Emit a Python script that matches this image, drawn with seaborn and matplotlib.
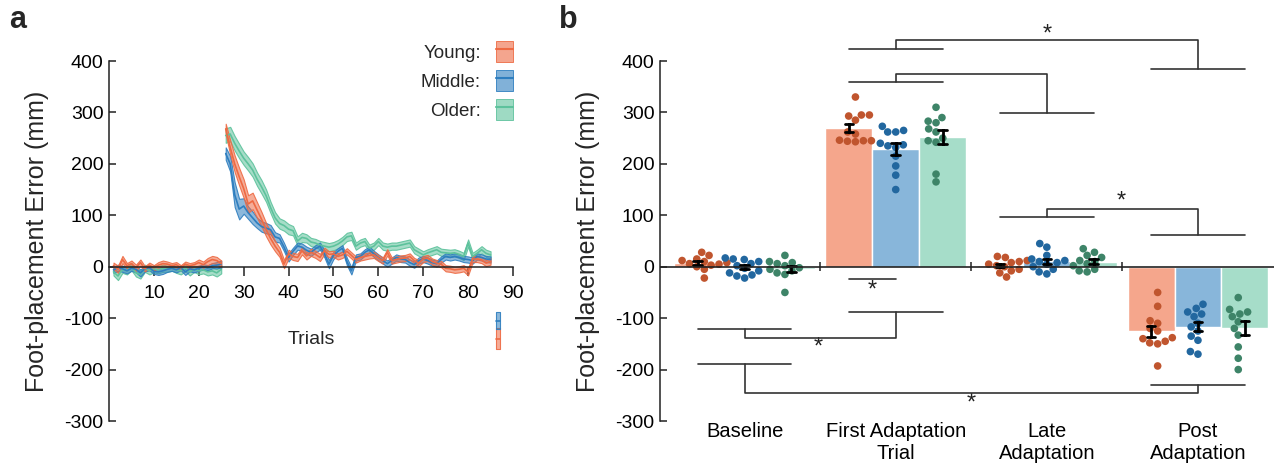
import numpy as np
import pandas as pd
import matplotlib
matplotlib.use("Agg")
import matplotlib.pyplot as plt
import matplotlib.colors as mcolors
import seaborn as sns
from matplotlib.patches import Patch
from matplotlib.lines import Line2D
from matplotlib.legend_handler import HandlerTuple

# ---------------- data ----------------
groups = ["Young", "Middle", "Older"]
phases = ["Baseline", "First Adaptation\nTrial", "Late\nAdaptation", "Post\nAdaptation"]

trials = np.arange(1, 86)
n_baseline = 25

young_mean = [2, -5, 14, 2, 6, -2, 8, -4, 3, -2, 3, 6, 5, 2, 4, -2, 5, 2, 4, 8, 4, 10, 14, 12, 6,
              268, 232, 200, 175, 152, 122, 128, 110, 92, 72, 55, 40, 28, 5, 25, 20, 18, 31, 21, 28, 24, 18, 31, 24, 25,
              20, 23, 30, 22, 14, 18, 20, 22, 23, 17, 12, 28, 12, 14, 16, 17, 20, 12, 7, 15, 17, 10, 7, 5, -3,
              -4, -6, -5, -3, -10, 15, 15, 13, 7, 10]
young_se = [6, 7, 7, 5, 6, 6, 6, 5, 5, 5, 6, 6, 5, 5, 5, 5, 5, 5, 5, 6, 6, 7, 7, 7, 6,
            10, 14, 16, 17, 18, 17, 16, 15, 14, 13, 12, 10, 9, 8, 8, 7, 7, 7, 7, 7, 7, 7, 6, 6, 6,
            6, 6, 6, 6, 6, 6, 6, 6, 6, 6, 6, 6, 6, 6, 6, 6, 6, 5, 6, 6, 6, 6, 6, 6, 6,
            6, 6, 6, 6, 7, 6, 6, 6, 6, 6]

middle_mean = [-6, -2, -4, -8, -3, -5, -12, -4, -2, -9, -10, -8, -5, -3, -6, -2, -10, -4, -6, -3, 0, -2, 2, 3, 5,
               220, 200, 140, 112, 118, 105, 95, 85, 78, 75, 72, 58, 55, 38, 18, 30, 40, 38, 32, 28, 35, 40, 25, 5, 22,
               30, 36, 10, -8, 18, 20, 28, 33, 25, 18, 12, 6, 12, 18, 15, 14, 8, 4, 12, 15, 12, 8, 6, 14, 20,
               18, 20, 18, 15, 14, 12, 20, 18, 15, 14]
middle_se = [6, 6, 6, 5, 5, 6, 7, 5, 5, 5, 6, 6, 5, 5, 5, 5, 6, 5, 5, 5, 5, 5, 5, 6, 7,
             12, 15, 24, 20, 15, 12, 12, 10, 10, 10, 9, 9, 8, 8, 8, 7, 7, 7, 7, 7, 7, 7, 7, 8, 7,
             6, 6, 7, 7, 6, 6, 6, 6, 6, 6, 6, 6, 6, 6, 6, 6, 6, 6, 6, 6, 6, 6, 6, 6, 6,
             6, 6, 6, 6, 6, 6, 6, 6, 6, 6]

older_mean = [-10, -18, -5, -8, 0, -12, -15, -3, -8, -4, -6, -3, -4, -2, -6, -8, -2, -10, -4, -8, -6, -10, -8, -12, -5,
              255, 258, 240, 225, 211, 200, 188, 170, 155, 138, 115, 95, 84, 80, 73, 70, 50, 57, 55, 48, 46, 42, 40, 38, 40,
              44, 50, 58, 60, 40, 46, 49, 36, 40, 49, 40, 38, 40, 40, 42, 44, 46, 33, 28, 23, 27, 30, 33, 28, 27,
              26, 27, 24, 20, 46, 20, 26, 33, 26, 23]
older_se = [7, 8, 7, 7, 7, 7, 8, 7, 7, 7, 7, 7, 6, 6, 6, 7, 7, 7, 6, 7, 7, 7, 7, 7, 8,
            14, 14, 14, 14, 13, 13, 13, 13, 13, 12, 11, 11, 10, 10, 10, 9, 9, 9, 8, 8, 8, 8, 8, 8, 8,
            8, 8, 8, 8, 7, 7, 7, 7, 7, 7, 7, 7, 7, 7, 7, 7, 7, 7, 7, 7, 7, 7, 7, 7, 7,
            7, 7, 7, 7, 7, 7, 7, 7, 7, 7]

# first post-adaptation trial (shown as a narrow strip right of the last trial)
post_groups = ["Young", "Middle"]
post_first_mean = [-140, -105]
post_first_se = [20, 17]

# panel b: individual participants
young_baseline = [28, 22, 15, 12, 10, 8, 6, 5, 3, 0, -5, -22]
young_first = [330, 295, 295, 293, 285, 262, 258, 245, 245, 244, 243, 246]
young_late = [20, 18, 12, 10, 8, 5, 2, 0, -5, -8, -12, -20]
young_post = [-50, -77, -105, -110, -120, -125, -138, -140, -145, -148, -150, -193]

middle_baseline = [17, 15, 14, 10, 6, 2, -3, -8, -12, -16, -18, -22]
middle_first = [273, 265, 262, 262, 240, 237, 235, 232, 215, 196, 178, 150]
middle_late = [45, 38, 22, 15, 12, 10, 8, 5, 0, -5, -10, -14]
middle_post = [-73, -81, -88, -92, -97, -110, -117, -125, -135, -143, -165, -170]

older_baseline = [22, 10, 8, 6, 2, -2, -5, -8, -12, -15, -50]
older_first = [310, 290, 283, 280, 268, 262, 250, 245, 242, 180, 165]
older_late = [35, 28, 22, 18, 12, 10, 6, 2, -5, -8, -10]
older_post = [-60, -83, -88, -92, -97, -107, -120, -133, -156, -178, -200]

# ---------------- style ----------------
sns.set_theme(style="white")
plt.rcParams["font.family"] = ["Liberation Sans", "DejaVu Sans"]
plt.rcParams["axes.unicode_minus"] = False

line_cols = {"Young": "#EE6A43", "Middle": "#2E7EBF", "Older": "#5DC29C"}
bar_cols = {"Young": "#F5A68C", "Middle": "#88B6DA", "Older": "#A6DDC9"}
pt_cols = {"Young": "#C0552E", "Middle": "#22679F", "Older": "#3E8468"}
ink = "#222222"

fig = plt.figure(figsize=(12.82, 4.68), dpi=100)
axA = fig.add_axes([109 / 1282, 47 / 468, 404 / 1282, 360 / 468])
axB = fig.add_axes([660 / 1282, 47 / 468, 613.5 / 1282, 360 / 468])

# ---------------- panel a ----------------
series = {"Young": (young_mean, young_se), "Middle": (middle_mean, middle_se), "Older": (older_mean, older_se)}
for g in ["Older", "Middle", "Young"]:
    m = np.asarray(series[g][0], float)
    s = np.asarray(series[g][1], float)
    for seg in (slice(0, n_baseline), slice(n_baseline, None)):
        t = trials[seg]
        axA.fill_between(t, m[seg] - s[seg], m[seg] + s[seg],
                         facecolor=mcolors.to_rgba(line_cols[g], 0.55),
                         edgecolor=mcolors.to_rgba(line_cols[g], 0.9), lw=0.8)
        sns.lineplot(x=t, y=m[seg], ax=axA, color=line_cols[g], lw=1.2)

post_x = trials[-1] + 1.6
for g, pm, ps in zip(post_groups, post_first_mean, post_first_se):
    axA.fill_between([post_x - 0.4, post_x + 0.4], pm - ps, pm + ps,
                     facecolor=mcolors.to_rgba(line_cols[g], 0.55),
                     edgecolor=mcolors.to_rgba(line_cols[g], 0.9), lw=0.8)
    axA.plot([post_x - 0.4, post_x + 0.4], [pm, pm], color=line_cols[g], lw=1.2)

axA.set_xlim(0, 90)
axA.set_ylim(-300, 400)
axA.set_xticks(np.arange(10, 91, 10))
axA.set_yticks(np.arange(-300, 401, 100))
axA.spines["bottom"].set_position(("data", 0))
for sp in ["top", "right"]:
    axA.spines[sp].set_visible(False)
for sp in ["left", "bottom"]:
    axA.spines[sp].set_color(ink)
    axA.spines[sp].set_linewidth(1.1)
axA.tick_params(axis="x", bottom=True, direction="out", length=6.5, width=1.1, pad=7, labelsize=14,
                colors=ink, labelcolor="black")
axA.tick_params(axis="y", left=True, direction="in", length=5, width=1.1, pad=4, labelsize=14,
                colors=ink, labelcolor="black")
axA.set_ylabel("Foot-placement Error (mm)", fontsize=18)
axA.yaxis.set_label_coords(-0.148, 0.5)
axA.set_xlabel("Trials", fontsize=14)
axA.xaxis.set_label_coords(0.5, 0.25)

handles = [(Patch(facecolor=mcolors.to_rgba(line_cols[g], 0.6), edgecolor=line_cols[g], lw=0.6),
            Line2D([], [], color=line_cols[g], lw=1.5)) for g in groups]
axA.legend(handles, [g + ":" for g in groups], handler_map={tuple: HandlerTuple(ndivide=1)},
           loc="upper right", bbox_to_anchor=(1.0, 1.055), frameon=False, markerfirst=False,
           fontsize=13.5, handlelength=0.9, handleheight=1.3, handletextpad=0.8,
           labelspacing=0.45, borderpad=0, borderaxespad=0)

# ---------------- panel b ----------------
values = {
    "Young": [young_baseline, young_first, young_late, young_post],
    "Middle": [middle_baseline, middle_first, middle_late, middle_post],
    "Older": [older_baseline, older_first, older_late, older_post],
}
rows = []
for g in groups:
    for ph, vals in zip(phases, values[g]):
        for v in vals:
            rows.append({"phase": ph, "group": g, "value": v})
df = pd.DataFrame(rows)

sns.barplot(data=df, x="phase", y="value", hue="group", order=phases, hue_order=groups,
            palette=bar_cols, errorbar="se", capsize=0.17, width=0.93, saturation=1,
            err_kws={"color": "black", "linewidth": 2}, legend=False, ax=axB)
sns.swarmplot(data=df, x="phase", y="value", hue="group", order=phases, hue_order=groups,
              palette=pt_cols, dodge=True, size=5.5, linewidth=0, legend=False, ax=axB)
for p in axB.patches:
    p.set_zorder(1)
for c in axB.collections:
    c.set_zorder(3)
for l in axB.lines:
    l.set_zorder(4)

axB.axhline(0, color=ink, lw=1.2, zorder=5)
seps = np.arange(len(phases) - 1) + 0.5
axB.vlines(seps, -9, 9, color=ink, lw=1.1, zorder=5)

axB.set_xlim(-0.56, 3.5)
axB.set_ylim(-300, 400)
axB.set_yticks(np.arange(-300, 401, 100))
axB.set_xticks(range(len(phases)))
axB.set_xticklabels(phases)
for sp in ["top", "right", "bottom"]:
    axB.spines[sp].set_visible(False)
axB.spines["left"].set_color(ink)
axB.spines["left"].set_linewidth(1.1)
axB.tick_params(axis="x", bottom=False, length=0, pad=1, labelsize=14.5, labelcolor="black")
axB.tick_params(axis="y", left=True, direction="in", length=5, width=1.1, pad=4, labelsize=14,
                colors=ink, labelcolor="black")
axB.set_xlabel("")
axB.set_ylabel("Foot-placement Error (mm)", fontsize=18)
axB.yaxis.set_label_coords(-0.098, 0.5)

# significance brackets: (cat1, level1, cat2, level2, joining level, star x, star y)
half = 0.31
brackets = [
    (1, 423, 3, 385, 440, 2.0, 452),
    (1, 359, 2, 298, 375, None, None),
    (2, 96, 3, 62, 112, 2.49, 126),
    (1, -89, 0, -121, -138, 0.49, -158),
    (0, -189, 3, -230, -246, 1.5, -266),
]
bkw = dict(color="#333333", lw=1.2, clip_on=False, zorder=6)
for c1, y1, c2, y2, yj, sx, sy in brackets:
    axB.plot([c1 - half, c1 + half], [y1, y1], **bkw)
    axB.plot([c2 - half, c2 + half], [y2, y2], **bkw)
    axB.plot([c1, c1, c2, c2], [y1, yj, yj, y2], **bkw)
    if sx is not None:
        axB.text(sx, sy, "*", ha="center", va="center", fontsize=17, color="#222222")
# young vs middle within first adaptation trial
axB.plot([1 - half, 1], [-24, -24], **bkw)
axB.text(1 - half / 2, -47, "*", ha="center", va="center", fontsize=17, color="#222222")

# panel letters
fig.text(18 / 1282, 1 - 20 / 468, "a", fontsize=22, fontweight="bold", ha="center", va="center")
fig.text(568 / 1282, 1 - 20 / 468, "b", fontsize=22, fontweight="bold", ha="center", va="center")

fig.savefig("out.png", dpi=100)
